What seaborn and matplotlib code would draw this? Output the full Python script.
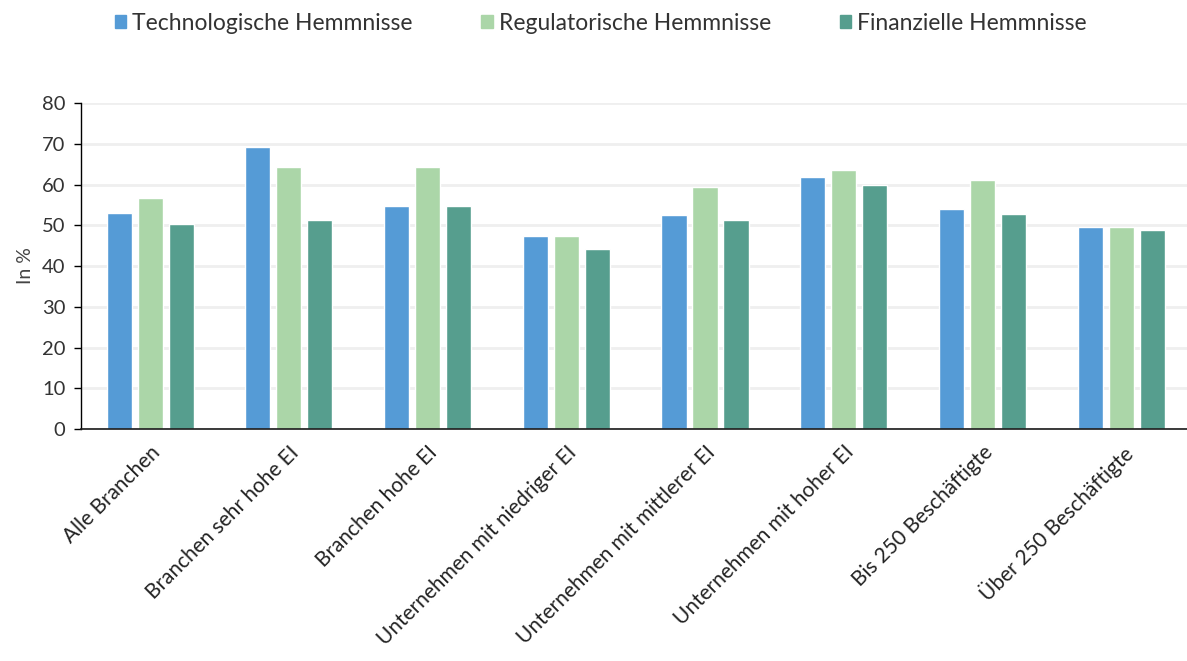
import matplotlib
matplotlib.use("Agg")
import matplotlib.pyplot as plt
import seaborn as sns
import pandas as pd

categories = [
    "Alle Branchen",
    "Branchen sehr hohe EI",
    "Branchen hohe EI",
    "Unternehmen mit niedriger EI",
    "Unternehmen mit mittlerer EI",
    "Unternehmen mit hoher EI",
    "Bis 250 Beschäftigte",
    "Über 250 Beschäftigte",
]
series_names = ["Technologische Hemmnisse", "Regulatorische Hemmnisse", "Finanzielle Hemmnisse"]
technologisch = [53.0, 69.3, 54.8, 47.3, 52.6, 61.8, 54.1, 49.5]
regulatorisch = [56.7, 64.2, 64.2, 47.3, 59.5, 63.6, 61.1, 49.5]
finanziell = [50.4, 51.4, 54.8, 44.2, 51.4, 59.8, 52.9, 48.8]
y_ticks = [0, 10, 20, 30, 40, 50, 60, 70, 80]

colors = ["#559BD6", "#ABD6A8", "#569E8E"]

df = pd.DataFrame({
    "Kategorie": categories * 3,
    "Serie": [series_names[0]] * 8 + [series_names[1]] * 8 + [series_names[2]] * 8,
    "Wert": technologisch + regulatorisch + finanziell,
})

sns.set_style("white")
plt.rcParams["font.family"] = ["Lato", "DejaVu Sans"]

fig = plt.figure(figsize=(11.87, 6.61), dpi=100)
ax = fig.add_axes([0.068, 0.351, 0.935, 0.493])

sns.barplot(data=df, x="Kategorie", y="Wert", hue="Serie", palette=colors,
            width=0.67, gap=0.19, ax=ax, legend=False, saturation=1)

ax.set_ylim(0, 80)
ax.set_yticks(y_ticks)
ax.set_xlim(-0.5, 7.5)
ax.yaxis.grid(True, color="#EFEFEF", linewidth=2)
ax.set_axisbelow(True)
for s in ["top", "right"]:
    ax.spines[s].set_visible(False)
ax.spines["left"].set_color("#000000")
ax.spines["left"].set_linewidth(1.0)
ax.spines["bottom"].set_color("#1A1A1A")
ax.spines["bottom"].set_linewidth(1.2)
ax.tick_params(axis="y", which="both", left=True, length=5, width=1, color="#000000",
               labelsize=14.5, labelcolor="#333333", pad=6)
ax.tick_params(axis="x", bottom=False, labelsize=15, labelcolor="#222222", pad=6)
ax.set_xlabel("")
ax.set_ylabel("In %", fontsize=14, color="#444444", labelpad=6)
plt.setp(ax.get_xticklabels(), rotation=45, ha="right", rotation_mode="anchor")

handles = [plt.Rectangle((0, 0), 1, 1, color=c) for c in colors]
fig.legend(handles, series_names, loc="upper center", bbox_to_anchor=(0.506, 1.012),
           ncol=3, frameon=False, fontsize=16.5, handlelength=0.5, handleheight=0.5,
           handletextpad=0.25, columnspacing=3.0, labelcolor="#333333")

fig.savefig("out.png", dpi=100, facecolor="white")
